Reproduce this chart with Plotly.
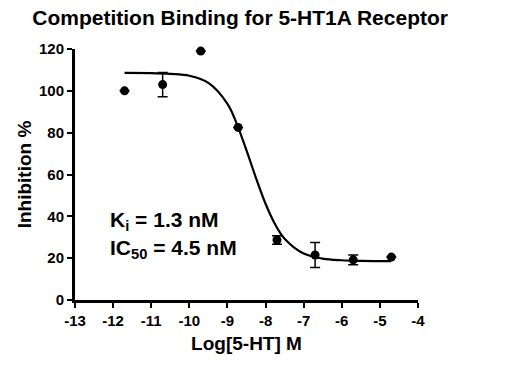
import plotly.graph_objects as go

# Measured data (mean ± error)
log_conc = [-11.7, -10.7, -9.7, -8.72, -7.7, -6.7, -5.7, -4.7]
inhibition = [100, 103, 119, 82.5, 28.7, 21.5, 19.2, 20.5]
err = [0, 5.8, 0, 0, 2.0, 6.0, 2.3, 0]

# Fitted curve
curve_x = [-11.7, -11.0, -10.5, -10.0, -9.5, -9.0, -8.75, -8.5, -8.25, -8.0,
           -7.75, -7.5, -7.0, -6.5, -6.0, -5.5, -5.0, -4.7]
curve_y = [108.6, 108.5, 108.1, 107.2, 103.8, 93.8, 84.0, 71.5, 58.3, 46.0,
           36.2, 29.3, 22.2, 19.8, 19.0, 18.7, 18.6, 18.6]

x_ticks = [-13, -12, -11, -10, -9, -8, -7, -6, -5, -4]
y_ticks = [0, 20, 40, 60, 80, 100, 120]

FONT = "Liberation Sans, Arial, sans-serif"

fig = go.Figure()
fig.add_trace(go.Scatter(x=curve_x, y=curve_y, mode="lines", line_shape="spline",
                         line=dict(color="black", width=2.2), hoverinfo="skip"))
fig.add_trace(go.Scatter(x=log_conc, y=inhibition, mode="markers", cliponaxis=False,
                         marker=dict(color="black", size=9),
                         error_y=dict(type="data", array=err, visible=True,
                                      color="black", thickness=1.5, width=5)))

fig.add_annotation(x=-12.13, y=37.6, xanchor="left", yanchor="middle", showarrow=False,
                   text="<b>K<sub>i</sub> = 1.3 nM</b>", font=dict(family=FONT, size=21, color="black"))
fig.add_annotation(x=-12.13, y=24.6, xanchor="left", yanchor="middle", showarrow=False,
                   text="<b>IC<sub>50</sub> = 4.5 nM</b>", font=dict(family=FONT, size=21, color="black"))

fig.update_layout(
    width=517, height=365,
    margin=dict(l=67, r=107, t=41, b=73),
    paper_bgcolor="white", plot_bgcolor="white",
    showlegend=False,
    font=dict(family=FONT, color="black"),
    title=dict(text="<b>Competition Binding for 5-HT1A Receptor</b>", x=0.449, xanchor="center",
               y=0.973, yanchor="middle", font=dict(family=FONT, size=21, color="black")),
)
fig.update_xaxes(range=[-13, -4], tickvals=x_ticks, ticktext=[f"<b>{t}</b>" for t in x_ticks],
                 showgrid=False, zeroline=False, showline=True, linecolor="black", linewidth=3,
                 ticks="outside", ticklen=5, tickwidth=2, tickcolor="black",
                 tickfont=dict(family=FONT, size=15, color="black"),
                 title=dict(text="<b>Log[5-HT] M</b>", font=dict(family=FONT, size=19, color="black"),
                            standoff=9))
fig.update_yaxes(range=[0, 120], tickvals=y_ticks, ticktext=[f"<b>{t}</b>" for t in y_ticks],
                 showgrid=False, zeroline=False, showline=True, linecolor="black", linewidth=3,
                 ticks="outside", ticklen=5, tickwidth=2, tickcolor="black",
                 tickfont=dict(family=FONT, size=15, color="black"),
                 title=dict(text="<b>Inhibition %</b>", font=dict(family=FONT, size=19, color="black"),
                            standoff=3))

fig.write_html("out.html")
